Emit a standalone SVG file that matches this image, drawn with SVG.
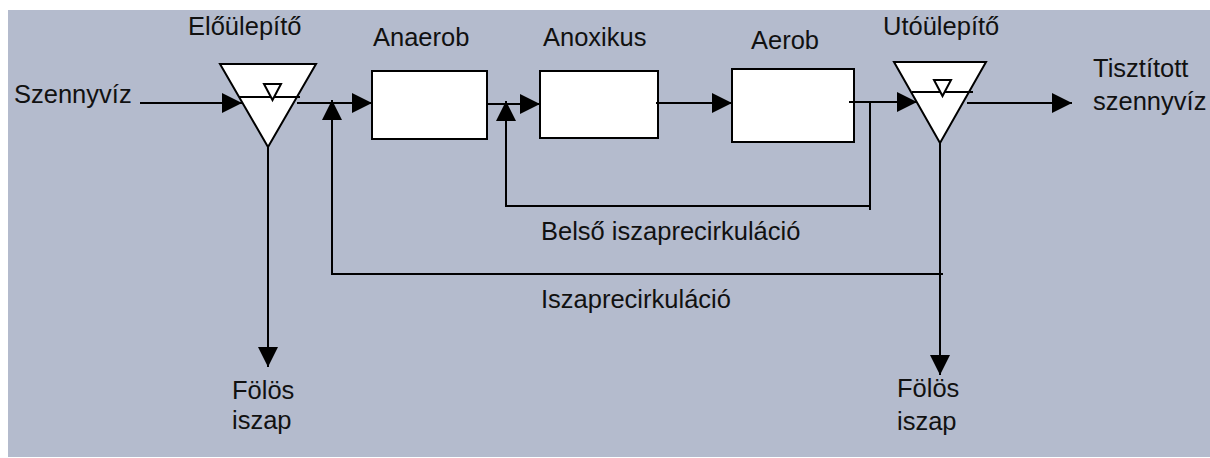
<svg xmlns="http://www.w3.org/2000/svg" width="1210" height="458" viewBox="0 0 1210 458">
  <style>
    .lbl { font-family: "Liberation Sans", Arial, sans-serif; font-size: 25.5px; fill: #111; }
    .tank { fill: #fff; stroke: #000; stroke-width: 2; }
    .line { fill: none; stroke: #000; stroke-width: 2; }
    .flow { fill: none; stroke: #000; stroke-width: 2; marker-end: url(#arrow); }
  </style>
  <defs>
    <marker id="arrow" markerUnits="userSpaceOnUse" markerWidth="20" markerHeight="20" viewBox="0 0 20 20" refX="20" refY="10" orient="auto">
      <path d="M0,0 L20,10 L0,20 Z" fill="#000"/>
    </marker>
  </defs>

  <rect x="8" y="10" width="1202" height="447" fill="#b4bbcd"/>

  <!-- primary settler -->
  <g id="eloulepito">
    <polygon class="tank" points="220,64 316,64 268,147"/>
    <line class="line" x1="239" y1="97" x2="300" y2="97"/>
    <polygon class="tank" points="264,84 281,84 272.5,100"/>
    <text class="lbl" x="188" y="35">Előülepítő</text>
  </g>

  <!-- anaerobic basin -->
  <g id="anaerob">
    <rect class="tank" x="372" y="71" width="115" height="68"/>
    <text class="lbl" x="373" y="46">Anaerob</text>
  </g>

  <!-- anoxic basin -->
  <g id="anoxikus">
    <rect class="tank" x="540" y="71" width="118" height="67"/>
    <text class="lbl" x="543" y="46">Anoxikus</text>
  </g>

  <!-- aerobic basin -->
  <g id="aerob">
    <rect class="tank" x="732" y="69" width="122" height="73"/>
    <text class="lbl" x="751" y="49">Aerob</text>
  </g>

  <!-- secondary settler -->
  <g id="utoulepito">
    <polygon class="tank" points="894,62 986,62 940,143"/>
    <line class="line" x1="912" y1="92" x2="973" y2="92"/>
    <polygon class="tank" points="934,80 951,80 942.5,96"/>
    <text class="lbl" x="883" y="35">Utóülepítő</text>
  </g>

  <!-- terminals -->
  <g id="szennyviz">
    <text class="lbl" x="14" y="103">Szennyvíz</text>
  </g>
  <g id="tisztitott">
    <text class="lbl" x="1093" y="77">Tisztított</text>
    <text class="lbl" x="1093" y="110">szennyvíz</text>
  </g>
  <g id="folos-iszap-1">
    <text class="lbl" x="232" y="399">Fölös</text>
    <text class="lbl" x="232" y="429">iszap</text>
  </g>
  <g id="folos-iszap-2">
    <text class="lbl" x="897" y="397">Fölös</text>
    <text class="lbl" x="897" y="430">iszap</text>
  </g>

  <!-- flows -->
  <g id="connectors">
    <path class="flow" d="M140,103 H242"/>
    <path class="flow" d="M297,103 H372"/>
    <path class="flow" d="M487,104 H540"/>
    <path class="flow" d="M656,103 H732"/>
    <path class="flow" d="M849,102 H917"/>
    <path class="flow" d="M967,103 H1072"/>
    <!-- internal recirculation -->
    <path class="line" d="M870,102 V210"/>
    <path class="flow" d="M870,206 H506 V101"/>
    <text class="lbl" x="541" y="240">Belső iszaprecirkuláció</text>
    <!-- return sludge -->
    <path class="flow" d="M943,274 H332 V100"/>
    <text class="lbl" x="541" y="308">Iszaprecirkuláció</text>
    <!-- excess sludge -->
    <path class="flow" d="M268,147 V367"/>
    <path class="flow" d="M940,143 V375"/>
  </g>
</svg>
